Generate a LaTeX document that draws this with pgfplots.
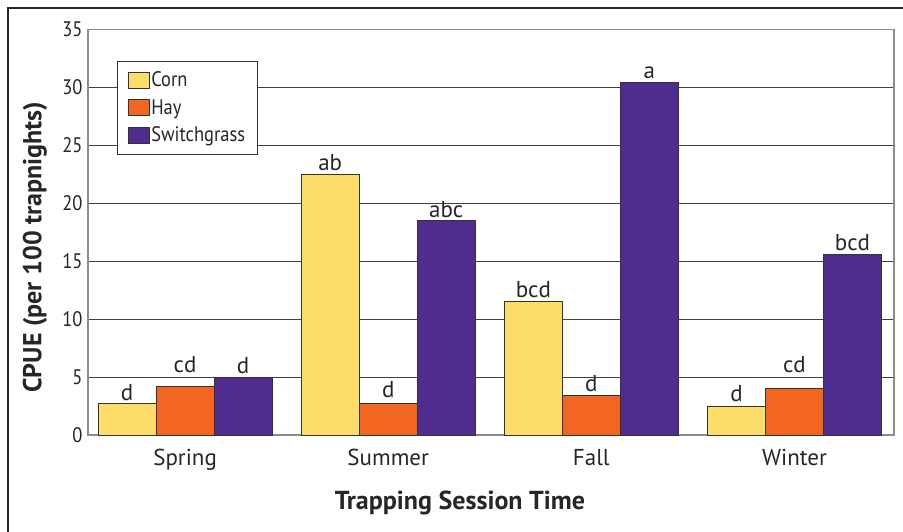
\documentclass[border=0pt]{standalone}
\usepackage{fontspec}
\setmainfont{PT Sans}
\newfontfamily\cond[FakeStretch=0.88]{PT Sans}
\usepackage{pgfplots}
\pgfplotsset{compat=1.18}
\usepackage{pgfplotstable}
\definecolor{corn}{RGB}{253,221,106}
\definecolor{hay}{RGB}{242,102,34}
\definecolor{switch}{RGB}{78,45,142}
\pgfplotstableread{
x y lab off
0 2.7 d 3
1 22.5 ab 4
2 11.5 bcd 4
3 2.5 d 4.5
}\corn
\pgfplotstableread{
x y lab off
0 4.2 cd 13.5
1 2.7 d 6
2 3.4 d 4
3 4.0 cd 16
}\hay
\pgfplotstableread{
x y lab off
0 5.0 d 4
1 18.5 abc 3.5
2 30.4 a 4
3 15.6 bcd 4
}\switch
\begin{document}
\begin{tikzpicture}
\useasboundingbox (0pt,0pt) rectangle (903pt,531pt);
\draw[line width=2.2pt, black!85] (8pt,-5pt) -- (8pt,523pt) -- (910pt,523pt);
\begin{axis}[
  at={(88pt,96pt)}, anchor=south west, scale only axis,
  width=806pt, height=405.7pt,
  xmin=-0.478, xmax=3.49, ymin=0, ymax=35,
  ytick={0,5,...,35}, xtick={0,1,2,3},
  xticklabels={Spring,Summer,Fall,Winter},
  major tick length=0pt,
  ymajorgrids, grid style={black!75, line width=0.9pt},
  axis line style={black!45, line width=1.3pt},
  ybar=0pt, bar width=58pt,
  every axis plot/.append style={draw=black!80, line width=1pt},
  /pgf/number format/assume math mode=true,
  yticklabel style={font=\cond\fontsize{21}{21}\selectfont, text=black!85, xshift=-2pt},
  xticklabel style={font=\fontsize{23}{23}\selectfont, text=black!85, yshift=-11pt},
  xlabel={Trapping Session Time},
  ylabel={CPUE (per 100 trapnights)},
  label style={font=\bfseries\fontsize{26}{26}\selectfont, text=black!85},
  xlabel style={at={(axis description cs:0.4615,-0.168)}, anchor=center},
  ylabel style={at={(axis description cs:-0.0658,0.463)}, anchor=center},
  nodes near coords, point meta=explicit symbolic,
  visualization depends on={\thisrow{off} \as \off},
  nodes near coords style={font=\fontsize{23}{23}\selectfont, text=black!85, anchor=base, inner sep=0pt, yshift=\off pt},
  legend style={at={(0.036,0.923)}, anchor=north west, draw=black!80, line width=1pt,
    font=\cond\fontsize{21}{21}\selectfont, text=black!85,
    inner xsep=10pt, inner ysep=9pt, row sep=7pt, cells={anchor=west}},
  legend image code/.code={\draw[#1, line width=0.8pt] (0pt,-8pt) rectangle (21pt,8pt);},
]
\addplot[fill=corn] table[x=x,y=y,meta=lab] {\corn};
\addplot[fill=hay] table[x=x,y=y,meta=lab] {\hay};
\addplot[fill=switch] table[x=x,y=y,meta=lab] {\switch};
\legend{Corn,Hay,Switchgrass}
\end{axis}
\end{tikzpicture}
\end{document}
